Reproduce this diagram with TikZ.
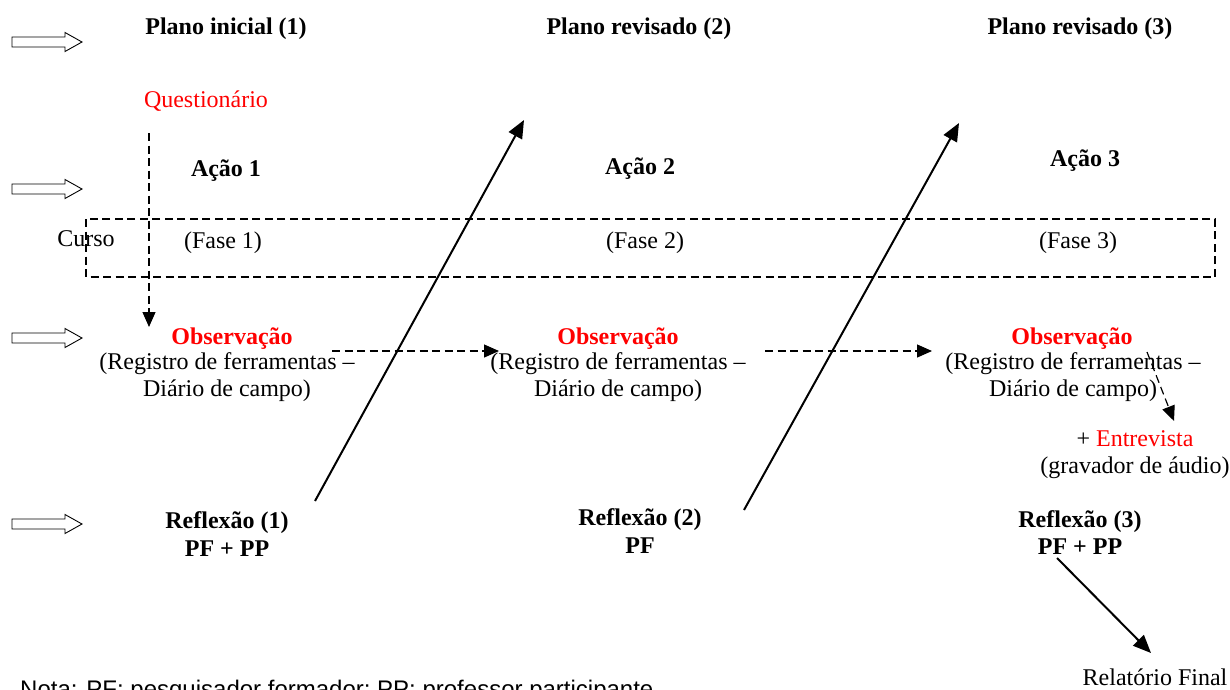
\documentclass[tikz,border=0pt]{standalone}
\usepackage{fontspec}
\setmainfont{Liberation Serif}
\newfontfamily\notefont{Liberation Sans}
\usetikzlibrary{arrows.meta}
\definecolor{obsred}{RGB}{255,0,0}
\begin{document}
\begin{tikzpicture}[x=1pt,y=-1pt,
  lbl/.style={anchor=base,inner sep=0pt,font=\fontsize{24}{28}\selectfont},
  hd/.style={lbl,font=\fontsize{24}{28}\selectfont\bfseries},
  redhd/.style={hd,text=obsred},
  redlbl/.style={lbl,text=obsred},
  solidarrow/.style={line width=2pt,-{Triangle[length=18pt,width=15pt]}},
  dasharrow/.style={line width=1.2pt,dash pattern=on 8pt off 4.5pt,-{Triangle[length=15pt,width=13pt]}},
  hollow/.pic={\draw[line width=0.9pt] (0,-5)--(53,-5)--(53,-9.5)--(70,0)--(53,9.5)--(53,5)--(0,5)--cycle;}
]
\useasboundingbox (0,0) rectangle (1230,689);

% row markers
\pic at (12,42) {hollow};
\pic at (12,189) {hollow};
\pic at (12,338) {hollow};
\pic at (12,524) {hollow};

% plans
\node[hd] (p1) at (226,34) {Plano inicial (1)};
\node[hd] (p2) at (639,34) {Plano revisado (2)};
\node[hd] (p3) at (1080,34) {Plano revisado (3)};

\node[redlbl] (quest) at (206,107) {Questionário};

% actions
\node[hd] (a1) at (226,176) {Ação 1};
\node[hd] (a2) at (640,174) {Ação 2};
\node[hd] (a3) at (1085,166) {Ação 3};

% course box
\draw[line width=1.2pt,dash pattern=on 8pt off 4.5pt] (86,219) rectangle (1215,277);
\node[lbl] (curso) at (86,246) {Curso};
\node[lbl] (f1) at (223,248) {(Fase 1)};
\node[lbl] (f2) at (645,248) {(Fase 2)};
\node[lbl] (f3) at (1078,248) {(Fase 3)};

% observation
\node[redhd] (o1) at (232,344) {Observação};
\node[redhd] (o2) at (618,344) {Observação};
\node[redhd] (o3) at (1072,344) {Observação};
\node[lbl] (r1a) at (227,369) {(Registro de ferramentas –};
\node[lbl] (r1b) at (227,396) {Diário de campo)};
\node[lbl] (r2a) at (618,369) {(Registro de ferramentas –};
\node[lbl] (r2b) at (618,396) {Diário de campo)};
\node[lbl] (r3a) at (1073,369) {(Registro de ferramentas –};
\node[lbl] (r3b) at (1073,396) {Diário de campo)};

\node[lbl] (ent) at (1135,446) {+ \textcolor{obsred}{Entrevista}};
\node[lbl] (grav) at (1135,473) {(gravador de áudio)};

% reflection
\node[hd] (rf1) at (227,528) {Reflexão (1)};
\node[hd] (pp1) at (227,556) {PF + PP};
\node[hd] (rf2) at (640,525) {Reflexão (2)};
\node[hd] (pp2) at (640,553) {PF};
\node[hd] (rf3) at (1080,527) {Reflexão (3)};
\node[hd] (pp3) at (1080,554) {PF + PP};

\node[lbl] (final) at (1155,685) {Relatório Final};
\node[anchor=base west,inner sep=0pt,font=\notefont\fontsize{24}{28}\selectfont] (nota) at (20,697)
  {Nota: PF: pesquisador formador; PP: professor participante.};

% connector end points
\coordinate (qs) at (149,133);
\coordinate (qe) at (149,327);
\coordinate (d1s) at (332,351);
\coordinate (d1e) at (499,351);
\coordinate (d2s) at (765,351);
\coordinate (d2e) at (932,351);
\coordinate (d3s) at (1147,352);
\coordinate (d3e) at (1174,421);
\coordinate (s1s) at (315,501);
\coordinate (s1e) at (524,120);
\coordinate (s2s) at (744,510);
\coordinate (s2e) at (959,123);
\coordinate (s3s) at (1057,558);
\coordinate (s3e) at (1151,653);

\draw[dasharrow] (qs) -- (qe);
\draw[dasharrow] (d1s) -- (d1e);
\draw[dasharrow] (d2s) -- (d2e);
\draw[dasharrow] (d3s) -- (d3e);
\draw[solidarrow] (s1s) -- (s1e);
\draw[solidarrow] (s2s) -- (s2e);
\draw[solidarrow] (s3s) -- (s3e);
\end{tikzpicture}
\end{document}
